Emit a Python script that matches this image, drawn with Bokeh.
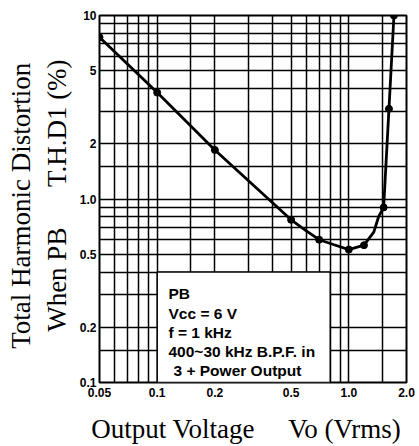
from bokeh.plotting import figure
from bokeh.models import FixedTicker, Label, BoxAnnotation
from bokeh.embed import file_html
from bokeh.resources import INLINE

# ---- data ----
x_ticks = [0.05, 0.06, 0.07, 0.08, 0.09, 0.1, 0.15, 0.2, 0.3, 0.4, 0.5, 0.6, 0.7, 0.8, 0.9, 1.0, 1.5, 2.0]
x_tick_labels = {0.05: "0.05", 0.1: "0.1", 0.2: "0.2", 0.5: "0.5", 1.0: "1.0", 2.0: "2.0"}
y_ticks = [0.1, 0.15, 0.2, 0.3, 0.4, 0.5, 0.6, 0.7, 0.8, 0.9, 1.0, 1.5, 2, 3, 4, 5, 6, 7, 8, 9, 10]
y_tick_labels = {0.1: "0.1", 0.2: "0.2", 0.5: "0.5", 1.0: "1.0", 2: "2", 5: "5", 10: "10"}

curve_vo = [0.05, 0.1, 0.2, 0.5, 0.6, 0.7, 0.83, 1.0, 1.2, 1.35, 1.43, 1.52, 1.62, 1.72]
curve_thd = [7.6, 3.8, 1.85, 0.77, 0.67, 0.6, 0.565, 0.53, 0.56, 0.66, 0.8, 0.9, 3.1, 10]
point_vo = [0.05, 0.1, 0.2, 0.5, 0.7, 1.0, 1.2, 1.52, 1.62, 1.72]
point_thd = [7.6, 3.8, 1.85, 0.77, 0.6, 0.53, 0.56, 0.9, 3.1, 10]

note_lines = ["PB", "Vcc = 6 V", "f = 1 kHz", "400~30 kHz B.P.F. in", "3 + Power Output"]

NB = "\u00a0"
x_title = "Output Voltage" + NB * 5 + "Vo (Vrms)" + NB * 2
y_title = ("Total Harmonic Distortion" + NB * 2 + "\n" +
           NB + "When PB" + NB * 6 + "T.H.D1 (%)")

W, H = 419, 446
FR_L, FR_R, FR_T, FR_B = 99, 406, 15, 386

p = figure(width=W, height=H, x_axis_type="log", y_axis_type="log",
           x_range=(0.05, 2.0), y_range=(0.1, 10),
           output_backend="svg", toolbar_location=None,
           min_border_left=FR_L, min_border_right=W - FR_R,
           min_border_top=FR_T, min_border_bottom=H - FR_B)
p.background_fill_color = "white"
p.border_fill_color = "white"
p.outline_line_color = "black"
p.outline_line_width = 2

xt = FixedTicker(ticks=x_ticks, minor_ticks=[])
yt = FixedTicker(ticks=y_ticks, minor_ticks=[])
p.xaxis.ticker = xt
p.yaxis.ticker = yt
p.xgrid.ticker = xt
p.ygrid.ticker = yt
p.xaxis.major_label_overrides = {t: x_tick_labels.get(t, "") for t in x_ticks}
p.yaxis.major_label_overrides = {t: y_tick_labels.get(t, "") for t in y_ticks}
for ax in (p.xaxis, p.yaxis):
    ax.axis_line_color = None
    ax.major_tick_in = 0
    ax.major_tick_out = 0
    ax.minor_tick_line_color = None
    ax.major_label_text_font = "Liberation Sans"
    ax.major_label_text_font_style = "bold"
    ax.major_label_text_font_size = "12px"
    ax.major_label_text_color = "black"
    ax.axis_label_text_font = "Liberation Serif"
    ax.axis_label_text_font_style = "normal"
    ax.axis_label_text_font_size = "27px"
    ax.axis_label_text_color = "black"
p.xaxis.major_label_standoff = 5
p.yaxis.major_label_standoff = 3
p.xaxis.axis_label = x_title
p.yaxis.axis_label = y_title
p.xaxis.axis_label_standoff = 14
p.yaxis.axis_label_standoff = 5
p.yaxis.axis_label_text_line_height = 1.2
for g in (p.xgrid, p.ygrid):
    g.grid_line_color = "black"
    g.grid_line_alpha = 1.0
    g.grid_line_width = 1.5

p.line(curve_vo, curve_thd, line_color="black", line_width=2.8)
p.scatter(point_vo, point_thd, size=7, color="black")

box = BoxAnnotation(left=0.1, right=0.8, bottom=0.1, top=0.4,
                    fill_color="white", fill_alpha=1.0,
                    line_color="black", line_width=1.5, line_alpha=1.0)
p.add_layout(box)

def sx(px):
    return px - FR_L

def sy(py):
    return FR_B - py

baselines = [297, 317, 336, 355, 374]
lefts = [168, 168, 168, 168, 173]
for txt, bx, by in zip(note_lines, lefts, baselines):
    p.add_layout(Label(x=sx(bx), y=sy(by), x_units="screen", y_units="screen",
                       text=txt, text_font="Liberation Sans", text_font_style="bold",
                       text_font_size="15.5px", text_color="black",
                       text_align="left", text_baseline="alphabetic"))

open("out.html", "w").write(file_html(p, INLINE))
